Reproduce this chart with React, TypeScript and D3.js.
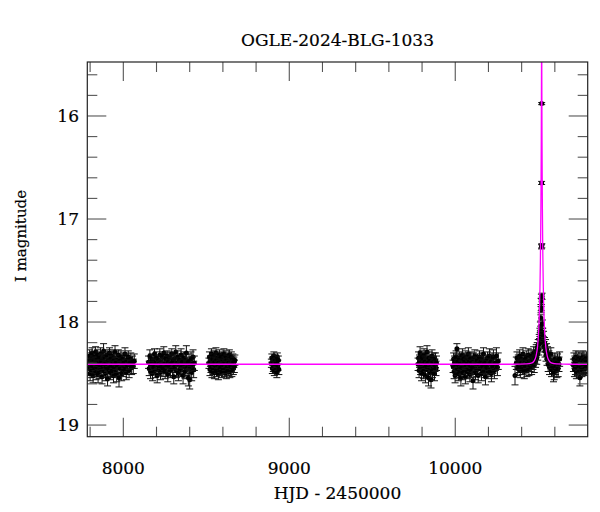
import React, { useEffect } from "react";
import * as d3 from "d3";

type Pt = [number, number, number];

const title = "OGLE-2024-BLG-1033";
const xLabel = "HJD - 2450000";
const yLabel = "I magnitude";
const xMajorTicks = [8000, 9000, 10000];
const yMajorTicks = [16, 17, 18, 19];
const xDomain = [7783, 10798];
const yDomain = [15.476, 19.113];

const season1: Pt[] = [[7791,18.38,0.06],[7794,18.45,0.07],[7797,18.33,0.06],[7800,18.50,0.07],[7803,18.41,0.05],[7806,18.36,0.06],[7809,18.47,0.07],[7812,18.30,0.05],[7815,18.43,0.06],[7818,18.52,0.07],[7821,18.39,0.06],[7824,18.34,0.05],[7827,18.46,0.07],[7830,18.41,0.06],[7833,18.29,0.05],[7836,18.49,0.07],[7839,18.37,0.06],[7842,18.44,0.06],[7845,18.32,0.05],[7848,18.51,0.08],[7851,18.40,0.06],[7854,18.35,0.06],[7857,18.48,0.07],[7860,18.42,0.05],[7863,18.31,0.06],[7866,18.45,0.07],[7869,18.38,0.06],[7872,18.53,0.07],[7875,18.36,0.05],[7878,18.43,0.06],[7881,18.28,0.07],[7884,18.47,0.07],[7887,18.40,0.06],[7890,18.34,0.05],[7893,18.50,0.07],[7896,18.39,0.06],[7899,18.44,0.06],[7902,18.32,0.05],[7905,18.55,0.07],[7908,18.41,0.06],[7911,18.37,0.06],[7914,18.46,0.07],[7917,18.30,0.05],[7920,18.43,0.06],[7923,18.49,0.07],[7926,18.36,0.06],[7929,18.42,0.05],[7932,18.33,0.06],[7935,18.47,0.07],[7938,18.39,0.06],[7941,18.52,0.07],[7944,18.35,0.06],[7947,18.44,0.06],[7950,18.29,0.06],[7953,18.46,0.07],[7956,18.40,0.06],[7960,18.50,0.08],[7963,18.37,0.06],[7966,18.43,0.06],[7970,18.32,0.05],[7974,18.54,0.09],[7978,18.38,0.06],[7982,18.45,0.07],[7986,18.34,0.06],[7990,18.50,0.07],[7994,18.41,0.06],[7998,18.36,0.06],[8002,18.46,0.07],[8006,18.39,0.06],[8010,18.31,0.06],[8014,18.44,0.07],[8018,18.49,0.07],[8022,18.37,0.06],[8026,18.42,0.06],[8030,18.34,0.06],[8035,18.47,0.07],[8040,18.40,0.06],[8045,18.36,0.06],[8050,18.44,0.07],[8055,18.39,0.06],[8060,18.43,0.07],[8066,18.38,0.07]];

const season2: Pt[] = [[8152,18.39,0.06],[8156,18.45,0.07],[8160,18.33,0.06],[8164,18.48,0.07],[8168,18.41,0.06],[8172,18.36,0.05],[8176,18.50,0.07],[8180,18.38,0.06],[8184,18.44,0.06],[8188,18.31,0.05],[8192,18.47,0.07],[8196,18.40,0.06],[8200,18.35,0.06],[8204,18.52,0.07],[8208,18.42,0.06],[8212,18.37,0.05],[8216,18.45,0.07],[8220,18.32,0.06],[8224,18.49,0.07],[8228,18.39,0.06],[8232,18.43,0.06],[8236,18.34,0.05],[8240,18.46,0.07],[8244,18.30,0.06],[8248,18.41,0.06],[8252,18.48,0.07],[8256,18.36,0.06],[8260,18.44,0.06],[8264,18.33,0.05],[8268,18.51,0.07],[8272,18.39,0.06],[8276,18.42,0.06],[8280,18.35,0.06],[8284,18.47,0.07],[8288,18.40,0.06],[8292,18.31,0.05],[8296,18.45,0.07],[8300,18.38,0.06],[8304,18.53,0.07],[8308,18.36,0.06],[8312,18.43,0.06],[8316,18.29,0.06],[8320,18.47,0.07],[8324,18.40,0.06],[8328,18.34,0.06],[8332,18.50,0.07],[8336,18.41,0.06],[8340,18.37,0.06],[8344,18.46,0.07],[8348,18.32,0.06],[8352,18.44,0.07],[8356,18.39,0.06],[8360,18.52,0.08],[8364,18.35,0.06],[8368,18.42,0.06],[8372,18.48,0.07],[8376,18.37,0.06],[8380,18.30,0.07],[8384,18.45,0.07],[8388,18.40,0.06],[8392,18.54,0.08],[8396,18.38,0.07],[8400,18.56,0.09],[8404,18.43,0.07],[8408,18.36,0.07],[8412,18.49,0.08],[8416,18.41,0.07],[8420,18.34,0.07],[8424,18.46,0.08],[8428,18.40,0.07]];

const season3: Pt[] = [[8516,18.40,0.05],[8519,18.34,0.05],[8522,18.46,0.06],[8525,18.38,0.05],[8528,18.43,0.06],[8531,18.31,0.05],[8534,18.48,0.06],[8537,18.41,0.05],[8540,18.36,0.05],[8543,18.45,0.06],[8546,18.33,0.05],[8549,18.49,0.06],[8552,18.39,0.05],[8555,18.42,0.05],[8558,18.30,0.05],[8561,18.47,0.06],[8564,18.37,0.05],[8567,18.44,0.06],[8570,18.35,0.05],[8573,18.50,0.06],[8576,18.40,0.05],[8579,18.32,0.05],[8582,18.46,0.06],[8585,18.38,0.05],[8588,18.43,0.06],[8591,18.34,0.05],[8594,18.48,0.06],[8597,18.41,0.05],[8600,18.36,0.05],[8603,18.45,0.06],[8606,18.31,0.05],[8609,18.47,0.06],[8612,18.39,0.05],[8615,18.42,0.05],[8618,18.33,0.05],[8621,18.49,0.06],[8624,18.37,0.05],[8627,18.44,0.06],[8630,18.35,0.05],[8633,18.46,0.06],[8636,18.40,0.05],[8639,18.32,0.05],[8642,18.48,0.06],[8645,18.38,0.05],[8648,18.43,0.06],[8651,18.34,0.05],[8654,18.47,0.06],[8657,18.41,0.05],[8660,18.36,0.05],[8663,18.45,0.06],[8666,18.39,0.05],[8669,18.43,0.06],[8672,18.37,0.05]];

const season4: Pt[] = [[8892,18.40,0.04],[8895,18.35,0.04],[8898,18.45,0.05],[8901,18.38,0.04],[8904,18.43,0.05],[8907,18.33,0.04],[8910,18.47,0.05],[8913,18.41,0.04],[8916,18.36,0.04],[8919,18.44,0.05],[8922,18.39,0.04],[8925,18.49,0.05],[8928,18.34,0.04],[8931,18.42,0.05],[8934,18.37,0.04],[8937,18.46,0.05]];

const season5: Pt[] = [[9776,18.41,0.06],[9779,18.35,0.06],[9782,18.47,0.07],[9785,18.38,0.06],[9788,18.30,0.06],[9791,18.44,0.07],[9794,18.40,0.06],[9797,18.50,0.07],[9800,18.34,0.06],[9803,18.43,0.06],[9806,18.37,0.06],[9809,18.48,0.07],[9812,18.32,0.06],[9815,18.45,0.07],[9818,18.39,0.06],[9821,18.52,0.07],[9824,18.36,0.06],[9827,18.42,0.06],[9830,18.29,0.06],[9833,18.46,0.07],[9836,18.40,0.06],[9839,18.54,0.08],[9842,18.35,0.06],[9845,18.44,0.07],[9848,18.38,0.06],[9851,18.49,0.07],[9854,18.56,0.08],[9857,18.41,0.06],[9860,18.33,0.06],[9863,18.47,0.07],[9866,18.39,0.06],[9869,18.44,0.07],[9872,18.36,0.06],[9875,18.50,0.07],[9878,18.42,0.06],[9881,18.37,0.07],[9884,18.45,0.07],[9887,18.40,0.07]];

const season6: Pt[] = [[9987,18.43,0.06],[9990,18.36,0.06],[9993,18.48,0.07],[9996,18.39,0.06],[9999,18.52,0.07],[10002,18.41,0.06],[10005,18.34,0.06],[10010,18.26,0.05],[10013,18.45,0.07],[10016,18.38,0.06],[10019,18.50,0.07],[10022,18.42,0.06],[10025,18.35,0.06],[10028,18.47,0.07],[10031,18.40,0.06],[10034,18.54,0.08],[10037,18.37,0.06],[10040,18.44,0.07],[10043,18.32,0.06],[10046,18.49,0.07],[10049,18.41,0.06],[10052,18.36,0.06],[10055,18.46,0.07],[10058,18.39,0.06],[10061,18.53,0.07],[10064,18.34,0.06],[10067,18.43,0.07],[10070,18.38,0.06],[10073,18.48,0.07],[10076,18.40,0.06],[10079,18.31,0.06],[10082,18.45,0.07],[10085,18.37,0.06],[10088,18.51,0.07],[10091,18.42,0.06],[10094,18.35,0.06],[10097,18.47,0.07],[10100,18.39,0.06],[10104,18.44,0.07],[10107,18.57,0.08],[10110,18.36,0.06],[10114,18.42,0.06],[10118,18.33,0.06],[10122,18.49,0.07],[10126,18.40,0.06],[10130,18.46,0.07],[10134,18.37,0.06],[10138,18.52,0.07],[10142,18.41,0.06],[10146,18.34,0.06],[10150,18.45,0.07],[10154,18.39,0.06],[10158,18.50,0.07],[10162,18.36,0.06],[10166,18.43,0.07],[10170,18.31,0.06],[10174,18.47,0.07],[10178,18.40,0.06],[10182,18.53,0.08],[10186,18.38,0.06],[10190,18.44,0.07],[10194,18.35,0.06],[10198,18.48,0.07],[10202,18.41,0.06],[10206,18.33,0.07],[10210,18.46,0.07],[10214,18.39,0.07],[10218,18.50,0.08],[10222,18.37,0.07],[10226,18.43,0.07],[10230,18.34,0.07],[10236,18.47,0.08],[10242,18.40,0.07],[10248,18.33,0.08],[10254,18.44,0.08],[10259,18.38,0.08]];

const season7: Pt[] = [[10360,18.52,0.09],[10368,18.40,0.06],[10372,18.35,0.06],[10376,18.45,0.07],[10380,18.38,0.06],[10384,18.43,0.06],[10388,18.33,0.06],[10392,18.47,0.07],[10396,18.40,0.06],[10400,18.36,0.06],[10404,18.44,0.07],[10408,18.31,0.06],[10412,18.42,0.06],[10416,18.48,0.07],[10420,18.37,0.06],[10424,18.43,0.06],[10428,18.34,0.06],[10432,18.46,0.07],[10436,18.39,0.06],[10440,18.32,0.06],[10444,18.45,0.07],[10448,18.38,0.06],[10452,18.42,0.06],[10456,18.33,0.06],[10460,18.44,0.07],[10464,18.36,0.06],[10468,18.40,0.06],[10472,18.30,0.06],[10476,18.42,0.07],[10480,18.34,0.06],[10484,18.38,0.06],[10488,18.28,0.06],[10491,18.35,0.06],[10494,18.25,0.05],[10497,18.31,0.06],[10500,18.22,0.05],[10503,18.27,0.05],[10506,18.17,0.05],[10508,18.21,0.05],[10510,18.10,0.04],[10512,18.14,0.04],[10513,18.04,0.04],[10515,18.08,0.04],[10516,17.96,0.03],[10517,17.88,0.03],[10517.5,17.80,0.03],[10518,17.86,0.03],[10519,17.75,0.02],[10519.8,17.27,0.02],[10520.3,16.65,0.015],[10520.7,15.88,0.01],[10521.5,17.26,0.02],[10523,17.75,0.03],[10525,18.02,0.04],[10527,18.10,0.04],[10529,18.19,0.05],[10532,18.14,0.05],[10535,18.24,0.05],[10538,18.20,0.05],[10541,18.28,0.06],[10544,18.23,0.06],[10547,18.32,0.06],[10550,18.27,0.06],[10553,18.36,0.06],[10556,18.30,0.06],[10560,18.41,0.07],[10564,18.34,0.06],[10568,18.44,0.07],[10572,18.37,0.06],[10576,18.31,0.06],[10580,18.46,0.07],[10584,18.39,0.06],[10588,18.43,0.07],[10592,18.50,0.08],[10596,18.48,0.08],[10600,18.36,0.06],[10604,18.44,0.07],[10608,18.40,0.07],[10612,18.47,0.07],[10616,18.38,0.07],[10620,18.45,0.08],[10625,18.41,0.07],[10629,18.36,0.07]];

const season8: Pt[] = [[10712,18.42,0.06],[10715,18.36,0.06],[10718,18.46,0.07],[10721,18.39,0.06],[10724,18.44,0.07],[10727,18.34,0.06],[10730,18.48,0.07],[10733,18.40,0.06],[10736,18.37,0.06],[10739,18.45,0.07],[10742,18.41,0.06],[10745,18.35,0.06],[10748,18.47,0.07],[10751,18.54,0.08],[10754,18.39,0.06],[10757,18.43,0.07],[10760,18.36,0.06],[10763,18.46,0.07],[10766,18.40,0.06],[10769,18.34,0.06],[10772,18.44,0.07],[10775,18.38,0.06],[10778,18.42,0.07],[10781,18.37,0.06],[10784,18.45,0.07],[10787,18.40,0.06],[10790,18.35,0.06],[10793,18.43,0.07],[10796,18.39,0.06]];

const modelT = [7783, 10350.5, 10430.5, 10458.5, 10475.5, 10486.7, 10495.7, 10502.5, 10507, 10510.4, 10512.6, 10514.3, 10516, 10517.1, 10518.25, 10519.15, 10519.6, 10520.5, 10521.4, 10521.85, 10522.75, 10523.9, 10525, 10526.7, 10528.4, 10530.6, 10534, 10538.5, 10545.3, 10554.3, 10565.5, 10582.5, 10610.5, 10690.5, 10798];
const modelMag = [18.41, 18.41, 18.407, 18.40, 18.377, 18.33, 18.24, 18.09, 17.90, 17.67, 17.44, 17.215, 16.90, 16.61, 16.225, 15.79, 15.53, 15.156, 15.53, 15.79, 16.225, 16.61, 16.90, 17.215, 17.44, 17.67, 17.90, 18.09, 18.24, 18.33, 18.377, 18.40, 18.407, 18.41, 18.41];

const W = 600;
const H = 512;
const L = 87.3, R = 587.7, T = 62, B = 436.7;
const FONT = "'DejaVu Serif', serif";

export default function App() {
  useEffect(() => {
    document.body.style.margin = "0";
  }, []);

  const x = d3.scaleLinear().domain(xDomain).range([L, R]);
  const y = d3.scaleLinear().domain(yDomain).range([T, B]);

  const all: Pt[] = [...season1, ...season2, ...season3, ...season4, ...season5, ...season6, ...season7, ...season8];

  const xMinor = d3.range(7800, 10800, 200).filter((v) => !xMajorTicks.includes(v));
  const yMinor = d3.range(78, 96).map((v) => v / 5).filter((v) => !Number.isInteger(v));

  const line = d3
    .line<number>()
    .x((_, i) => x(modelT[i]))
    .y((d) => y(d))
    .curve(d3.curveMonotoneX);

  const tickColor = "#555";
  const majX = 19, minX = 10, majY = 19, minY = 10;

  return (
    <svg width={W} height={H} style={{ position: "absolute", left: 0, top: 0, background: "#fff" }}>
      <defs>
        <clipPath id="plotclip">
          <rect x={L} y={T} width={R - L} height={B - T} />
        </clipPath>
      </defs>
      <rect x={0} y={0} width={W} height={H} fill="#fff" />
      <g clipPath="url(#plotclip)">
        {all.map((d, i) => {
          const cx = x(d[0]);
          const y1 = y(d[1] - d[2]);
          const y2 = y(d[1] + d[2]);
          return (
            <g key={i}>
              <line x1={cx} x2={cx} y1={y1} y2={y2} stroke="#111" strokeWidth={1} />
              <line x1={cx - 3.5} x2={cx + 3.5} y1={y1} y2={y1} stroke="#111" strokeWidth={1} />
              <line x1={cx - 3.5} x2={cx + 3.5} y1={y2} y2={y2} stroke="#111" strokeWidth={1} />
              <circle cx={cx} cy={y(d[1])} r={2.5} fill="#000" />
            </g>
          );
        })}
        <path d={line(modelMag) || ""} fill="none" stroke="#ff00ff" strokeWidth={1.3} />
      </g>
      {/* ticks */}
      <g stroke={tickColor} strokeWidth={1.1}>
        {xMajorTicks.map((v) => (
          <g key={"xM" + v}>
            <line x1={x(v)} x2={x(v)} y1={B} y2={B - majX} />
            <line x1={x(v)} x2={x(v)} y1={T} y2={T + majX} />
          </g>
        ))}
        {xMinor.map((v) => (
          <g key={"xm" + v}>
            <line x1={x(v)} x2={x(v)} y1={B} y2={B - minX} />
            <line x1={x(v)} x2={x(v)} y1={T} y2={T + minX} />
          </g>
        ))}
        {yMajorTicks.map((v) => (
          <g key={"yM" + v}>
            <line x1={L} x2={L + majY} y1={y(v)} y2={y(v)} />
            <line x1={R} x2={R - majY} y1={y(v)} y2={y(v)} />
          </g>
        ))}
        {yMinor.map((v) => (
          <g key={"ym" + v}>
            <line x1={L} x2={L + minY} y1={y(v)} y2={y(v)} />
            <line x1={R} x2={R - minY} y1={y(v)} y2={y(v)} />
          </g>
        ))}
      </g>
      <rect x={L} y={T} width={R - L} height={B - T} fill="none" stroke="#222" strokeWidth={1.2} />
      {/* labels */}
      <g fontFamily={FONT} fontSize={17} fill="#000" stroke="#000" strokeWidth={0.2}>
        {xMajorTicks.map((v) => (
          <text key={"xl" + v} x={x(v)} y={474} textAnchor="middle">
            {v}
          </text>
        ))}
        {yMajorTicks.map((v) => (
          <text key={"yl" + v} x={79} y={y(v)} dy="0.36em" textAnchor="end">
            {v}
          </text>
        ))}
        <text x={(L + R) / 2} y={499} textAnchor="middle">
          {xLabel}
        </text>
        <text x={(L + R) / 2} y={46} textAnchor="middle">
          {title}
        </text>
        <text transform="translate(26,236) rotate(-90)" textAnchor="middle" fontSize={15}>
          {yLabel}
        </text>
      </g>
    </svg>
  );
}
